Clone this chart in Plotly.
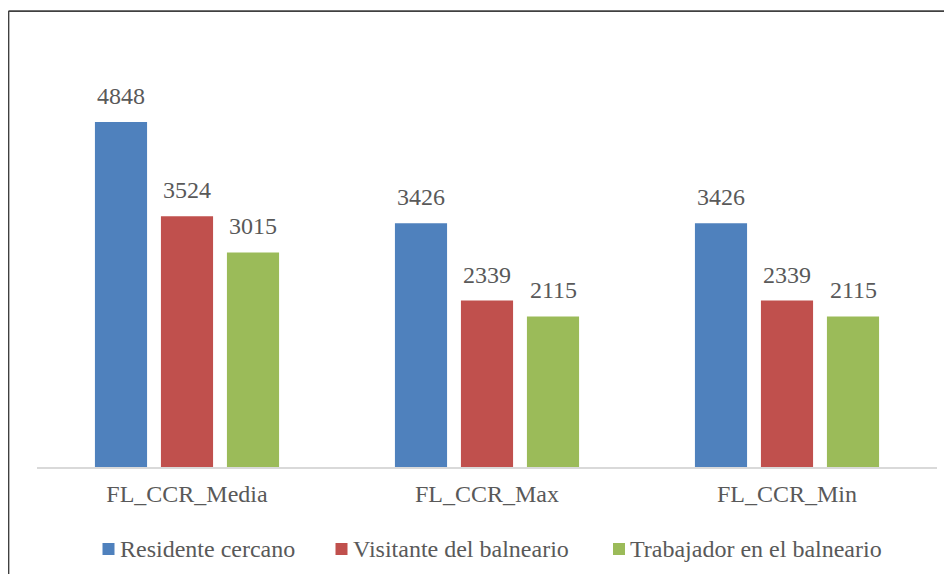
import plotly.graph_objects as go

categories = ["FL_CCR_Media", "FL_CCR_Max", "FL_CCR_Min"]
series_names = ["Residente cercano", "Visitante del balneario", "Trabajador en el balneario"]
residente = [4848, 3426, 3426]
visitante = [3524, 2339, 2339]
trabajador = [3015, 2115, 2115]
colors = ["#4F81BD", "#C0504D", "#9BBB59"]

# figure 944x566 sits inside the page's 8px body margin without overflowing
W, H = 936, 566
ML, MR, MT, MB = 29, 7, 32, 107
pw, ph = W - ML - MR, H - MT - MB
BARGAP, BARGROUPGAP = 0.34, 0.21

font_family = "Liberation Serif, Times New Roman, serif"
text_color = "#595959"
FS = 24

all_series = [residente, visitante, trabajador]
n_series = len(all_series)
slot = (1 - BARGAP) / n_series

fig = go.Figure()
annotations = []
for k, (name, vals, col) in enumerate(zip(series_names, all_series, colors)):
    fig.add_trace(go.Bar(
        x=categories, y=vals, name=name,
        marker=dict(color=col, line=dict(width=0)),
        showlegend=False, cliponaxis=False,
    ))
    off = (k - (n_series - 1) / 2) * slot
    for i, v in enumerate(vals):
        annotations.append(dict(
            x=i + off, y=v, xref="x", yref="y", text=str(v), showarrow=False,
            xanchor="center", yanchor="bottom", yshift=11,
            font=dict(family=font_family, size=FS, color=text_color),
        ))

def px_x(p):
    return (p - ML) / pw

def px_y(p):
    return (H - MB - p) / ph

# manual legend (Excel style: small square, tight gap)
legend_left = [94.5, 327.5, 605]
legend_cy = 541
sq = 12
shapes = []
for name, col, lx in zip(series_names, colors, legend_left):
    shapes.append(dict(type="rect", xref="paper", yref="paper",
                       x0=px_x(lx), x1=px_x(lx + sq),
                       y0=px_y(legend_cy + sq / 2), y1=px_y(legend_cy - sq / 2),
                       line=dict(width=0), fillcolor=col))
    annotations.append(dict(
        x=px_x(lx + sq + 3), y=px_y(legend_cy), xref="paper", yref="paper",
        text=name, showarrow=False, xanchor="left", yanchor="middle",
        font=dict(family=font_family, size=FS, color=text_color),
    ))

# chart-area border: only top and left edges are visible in the crop
border = dict(color="#404040", width=1.75)
shapes.append(dict(type="line", xref="paper", yref="paper",
                   x0=px_x(0.5), x1=px_x(W + 10), y0=px_y(3), y1=px_y(3),
                   line=border, layer="above"))
shapes.append(dict(type="line", xref="paper", yref="paper",
                   x0=px_x(0.5), x1=px_x(0.5), y0=px_y(3), y1=px_y(H + 10),
                   line=border, layer="above"))

fig.update_layout(
    width=W, height=H,
    margin=dict(l=ML, r=MR, t=MT, b=MB),
    paper_bgcolor="white", plot_bgcolor="white",
    barmode="group", bargap=BARGAP, bargroupgap=BARGROUPGAP,
    font=dict(family=font_family, size=FS, color=text_color),
    xaxis=dict(showline=True, linecolor="#D9D9D9", linewidth=1.5,
               ticks="", showgrid=False, ticklabelstandoff=4,
               tickfont=dict(family=font_family, size=FS, color=text_color)),
    yaxis=dict(range=[0, 6000], visible=False, showgrid=False),
    showlegend=False,
    annotations=annotations,
    shapes=shapes,
)

fig.write_html("out.html")
